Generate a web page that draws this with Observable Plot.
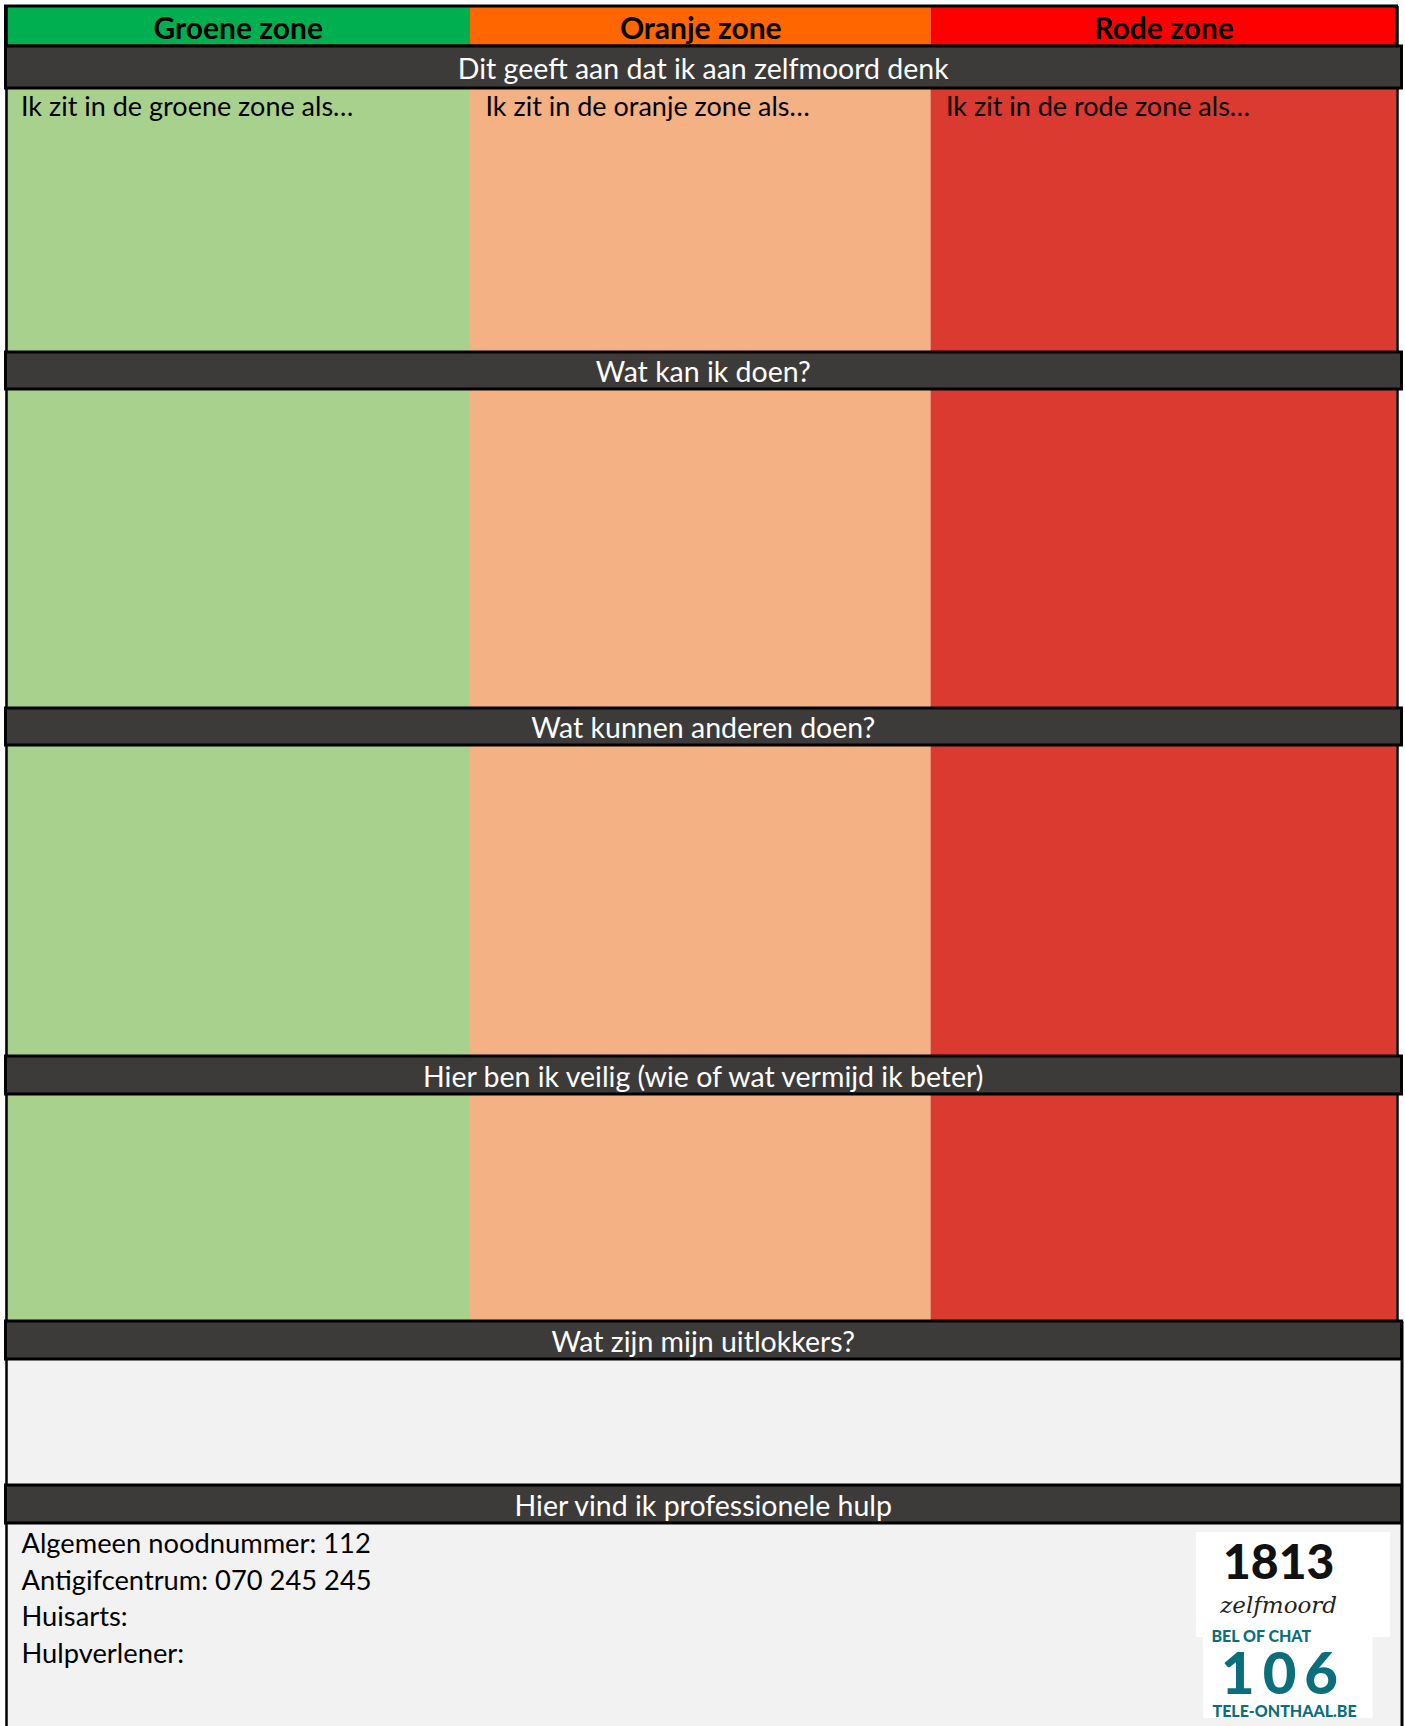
<!DOCTYPE html>
<html><head><meta charset="utf-8">
<script src="https://cdn.jsdelivr.net/npm/d3@7"></script>
<script src="https://cdn.jsdelivr.net/npm/@observablehq/plot@0.6"></script>
<style>html,body{margin:0;padding:0;background:#fff;} #chart svg{display:block}</style>
</head><body><div id="chart"></div>
<script>
// ---- content ----
const zones = ["Groene zone", "Oranje zone", "Rode zone"];
const zonePrompts = ["Ik zit in de groene zone als…", "Ik zit in de oranje zone als…", "Ik zit in de rode zone als…"];
const sectionTitles = [
  "Dit geeft aan dat ik aan zelfmoord denk",
  "Wat kan ik doen?",
  "Wat kunnen anderen doen?",
  "Hier ben ik veilig (wie of wat vermijd ik beter)",
  "Wat zijn mijn uitlokkers?",
  "Hier vind ik professionele hulp"
];
const contacts = ["Algemeen noodnummer: 112", "Antigifcentrum: 070 245 245", "Huisarts:", "Hulpverlener:"];
const logo1813 = ["1813", "zelfmoord"];
const logo106 = ["BEL OF CHAT", "106", "TELE-ONTHAAL.BE"];

// ---- styles ----
const headerFill = ["#00b050", "#ff6600", "#ff0000"];
const zoneFill = ["#a9d18e", "#f4b183", "#da3a2f"];
const bandFill = "#3c3b39", plainFill = "#f2f2f2", teal = "#0b6f7b";
const font = "Lato, 'Open Sans', sans-serif";

// ---- layout (row structure, heights in layout units) ----
const rowKinds = ["header","band","zone","band","zone","band","zone","band","zone","band","plain","band","plain"];
const rowHeights = [40, 42, 264, 37, 319, 37, 311, 38, 227, 38, 126, 38, 212];

let acc = 0, bandIdx = 0;
const rows = rowKinds.map((kind, i) => {
  const r = {kind, y1: acc, y2: acc + rowHeights[i]};
  acc += rowHeights[i];
  if (kind === "band") r.title = sectionTitles[bandIdx++];
  return r;
});
const zoneRows = rows.filter(r => r.kind === "zone");
const zoneCells = zoneRows.flatMap(r => zones.map((z, i) => ({zone: z, i, y1: r.y1, y2: r.y2})));
const headerCells = zones.map((z, i) => ({zone: z, i, y1: rows[0].y1, y2: rows[0].y2}));
const bands = rows.filter(r => r.kind === "band");
const plains = rows.filter(r => r.kind === "plain");
const firstZone = zoneRows[0];
const contactRow = plains[1];
const lastZoneEnd = zoneRows[zoneRows.length - 1].y2;
const total = acc;

const plot = Plot.plot({
  width: 1405,
  height: 1726,
  margin: 0,
  style: {fontFamily: font, background: "#fff"},
  x: {type: "linear", domain: [0, 1, 2, 3], range: [5.5, 470, 930.5, 1396.5], axis: null},
  y: {domain: [0, 1720], range: [6, 1726], axis: null},
  marks: [
    // zone cells
    Plot.rect(zoneCells, {x1: d => d.i, x2: d => d.i + 1, y1: "y1", y2: "y2", fill: d => zoneFill[d.i]}),
    // header cells
    Plot.rect(headerCells, {x1: d => d.i, x2: d => d.i + 1, y1: "y1", y2: "y2", fill: d => headerFill[d.i]}),
    // plain (light grey) rows
    Plot.rect(plains, {x1: 0, x2: 3, y1: "y1", y2: "y2", fill: plainFill, insetRight: -5}),
    // borders
    Plot.ruleX([0], {y1: 0, y2: total, stroke: "black", strokeWidth: 2.5, dx: 0.5}),
    Plot.ruleX([3], {y1: 0, y2: lastZoneEnd, stroke: "black", strokeWidth: 2.5, dx: 0.5}),
    Plot.ruleX([3], {y1: lastZoneEnd, y2: total, stroke: "black", strokeWidth: 3, dx: 5}),
    Plot.rect([rows[0]], {x1: 0, x2: 3, y1: "y1", y2: "y2", fill: "none", stroke: "black", strokeWidth: 3}),
    // section bands
    Plot.rect(bands, {x1: 0, x2: 3, y1: "y1", y2: "y2", fill: bandFill, stroke: "black", strokeWidth: 3, insetRight: -5}),
    // texts
    Plot.text(headerCells, {x: d => d.i + 0.5, y: d => (d.y1 + d.y2) / 2, dy: 3, text: "zone", fill: "black",
      fontWeight: "bold", fontSize: 30, fontFamily: font}),
    Plot.text(bands, {x: 1.5, dx: 2.5, y: d => (d.y1 + d.y2) / 2, dy: 2, text: "title", fill: "white",
      fontSize: 28.5, fontFamily: font}),
    Plot.text(zonePrompts, {x: (d, i) => i, dx: 15, y: () => firstZone.y1, dy: 19, text: d => d,
      textAnchor: "start", fill: "black", fontSize: 27, fontFamily: font}),
    Plot.text(contacts, {x: 0, dx: 15.5, y: (d, i) => contactRow.y1 + 21, dy: 0, text: d => d,
      textAnchor: "start", fill: "black", fontSize: 27.3, fontFamily: font}),
    // logos
    Plot.rect([0], {x1: 2.5697, x2: 2.986, y1: () => contactRow.y1 + 9, y2: () => contactRow.y1 + 114, fill: "white"}),
    Plot.rect([0], {x1: 2.5848, x2: 2.9485, y1: () => contactRow.y1 + 114, y2: () => contactRow.y1 + 195, fill: "white"}),
    Plot.text([logo1813[0]], {x: 2.746, y: () => contactRow.y1 + 40, text: d => d, fill: "#111",
      fontWeight: 900, fontSize: 48, fontFamily: font}),
    Plot.text([logo1813[1]], {x: 2.746, y: () => contactRow.y1 + 82, text: d => d, fill: "#222",
      fontStyle: "italic", fontSize: 23, fontFamily: "'DejaVu Serif', serif"}),
    Plot.text([logo106[0]], {x: 2.6019, y: () => contactRow.y1 + 113, text: d => d, fill: teal, textAnchor: "start",
      fontWeight: 900, fontSize: 16, fontFamily: font}),
    Plot.text([logo106[1]], {x: 2.7564, y: () => contactRow.y1 + 152, text: d => d, fill: teal,
      fontWeight: 900, fontSize: 58, fontFamily: font}),
    Plot.text([logo106[2]], {x: 2.604, y: () => contactRow.y1 + 188, text: d => d, fill: teal, textAnchor: "start",
      fontWeight: 900, fontSize: 16, fontFamily: font})
  ]
});
// spread contact lines and widen the "106" digits
d3.select(plot).selectAll("text").each(function () {
  const t = this.textContent;
  const idx = contacts.indexOf(t);
  if (idx > 0) {
    const tr = this.getAttribute("transform");
    this.setAttribute("transform", (tr || "") + ` translate(0,${idx * 36.5})`);
  }
  if (t === logo106[1]) this.setAttribute("letter-spacing", "8");
});
document.getElementById("chart").appendChild(plot);
</script>
</body></html>
